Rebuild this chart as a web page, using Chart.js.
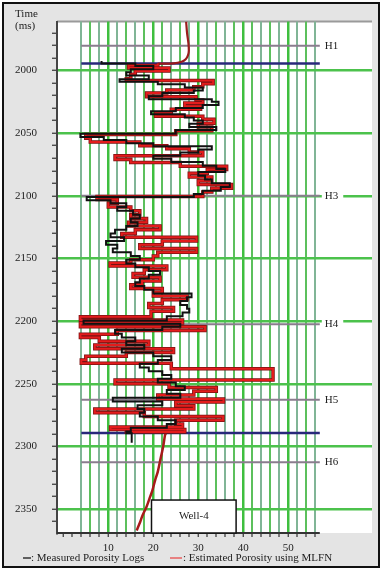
<!DOCTYPE html>
<html>
<head>
<meta charset="utf-8">
<script src="https://cdn.jsdelivr.net/npm/chart.js@4.4.1/dist/chart.umd.min.js"></script>
<style>
  html, body { margin: 0; padding: 0; background: #fff; }
  canvas { display: block; }
</style>
</head>
<body>
<canvas id="wellChart" width="382" height="570"></canvas>
<script>
// Measured porosity log (black), time in ms, porosity in %
const measuredTime = [1992.5, 1994.5, 1996.5, 1999, 2001.5, 2004, 2007, 2009, 2011, 2013.5, 2016, 2018, 2020.5, 2023, 2025, 2027.5, 2030, 2032.5, 2035, 2037.5, 2040, 2042.5, 2045, 2047.5, 2050.5, 2053, 2055.5, 2058, 2060.5, 2063, 2065.5, 2068, 2070.5, 2073, 2076, 2078.5, 2081, 2084, 2087, 2090, 2093, 2096, 2098.5, 2101, 2103.5, 2106, 2109, 2112, 2115, 2118, 2121, 2124, 2127, 2130, 2133, 2136, 2139, 2142, 2145, 2148, 2151, 2154, 2157, 2160, 2163, 2166, 2169, 2172, 2175, 2178, 2181, 2184, 2187, 2190, 2193, 2196, 2199.5, 2202, 2204.5, 2207, 2210, 2213, 2216, 2219, 2222, 2225, 2228, 2231, 2234, 2237, 2240, 2243, 2246, 2249, 2252, 2255, 2258, 2261, 2264, 2267, 2270, 2273, 2276, 2279, 2282, 2285, 2288, 2289.5, 2297];
const measuredPorosity = [8.5, 16, 20, 15, 14, 19, 12.5, 21, 27, 31, 29, 22, 19, 33, 34.5, 31, 25, 19.5, 27, 29, 31, 28, 34, 25, 3.8, 9, 14, 20, 33, 30, 26, 20, 24, 31, 34, 36, 30, 31.5, 33, 37, 35, 31, 29, 5.2, 10.5, 14, 12, 15.5, 17, 15, 16.5, 14, 11.5, 10.5, 13.5, 9.5, 12, 11, 15, 17, 14, 16, 19, 21.5, 19, 17, 16, 18, 20, 28.5, 27.5, 26, 27.5, 28, 26.5, 23, 4.5, 26, 22, 11.5, 13, 16, 14, 18, 13, 20, 24, 21, 17, 19, 22, 24, 21, 25, 27, 23, 26, 11, 22, 16.5, 18, 17, 21, 25, 23, 15, 14, 15.2, 15.2];

// Estimated porosity using MLFN (red)
const estimatedTime = [1994.5, 1996, 1998, 2000.5, 2003, 2006.5, 2008, 2010.5, 2013, 2015.5, 2018, 2021, 2023.5, 2026, 2028.5, 2031, 2034, 2036.5, 2039, 2042, 2045, 2048, 2051, 2054, 2057, 2060, 2062.5, 2065, 2068, 2071, 2073.5, 2076.5, 2079, 2082, 2085, 2088, 2091, 2094, 2097, 2100.5, 2103, 2106, 2109, 2112, 2115, 2118, 2121, 2124, 2127, 2130, 2133, 2136, 2139, 2142, 2145, 2148, 2151, 2153.5, 2156, 2159, 2162, 2165, 2168, 2171, 2174, 2177, 2180, 2183, 2186, 2189, 2192, 2196.5, 2199, 2201.5, 2204.5, 2207.5, 2210.5, 2213, 2216, 2219, 2222, 2225, 2228, 2231, 2233.5, 2238, 2247, 2250, 2253, 2256, 2259, 2262, 2264.5, 2267.5, 2270, 2273, 2276, 2279, 2282, 2284.5, 2286.5, 2288.5, 2290];
const estimatedPorosity = [21, 14.5, 23.5, 16, 15, 14, 33.3, 31, 29, 23, 18.5, 29.5, 31, 27, 30.5, 24, 20.5, 31, 33.5, 30, 33, 25, 5, 6, 17, 23, 28, 31, 11.5, 15, 26, 36.3, 32, 28, 33, 30, 37.4, 33, 31, 7.5, 12, 10, 15, 17, 15, 18.5, 14.5, 21.5, 16, 13, 29.6, 22, 17, 29.6, 21, 20, 15, 10.4, 23, 18, 15.5, 21.5, 17.5, 15, 22, 20, 27.5, 22, 19, 24.5, 19.5, 3.8, 26.5, 3.8, 31.5, 12, 3.8, 8, 19, 7, 24.5, 14, 5, 4, 24, 46.6, 11.5, 23.5, 34, 29, 21, 35.6, 25, 29, 7, 18, 35.5, 25, 26.5, 10.5, 27, 14, 14];

// Smooth log above and below the zone
const upperTime = [1961, 1970, 1978, 1984, 1988, 1991, 1993, 1994.3, 1994.5];
const upperPorosity = [27.3, 27.5, 27.8, 27.9, 27.7, 27.2, 26.3, 24.5, 21];
const lowerTime = [2289.5, 2291, 2300, 2310, 2320, 2327, 2335, 2340, 2348, 2355, 2360, 2367];
const lowerPorosity = [22.8, 22.6, 22.2, 21.6, 21, 20.4, 19.8, 19.3, 18.5, 17.6, 17.1, 16.3];

// Horizons and zone boundaries
const horizonNames = ['H1', 'H3', 'H4', 'H5', 'H6'];
const horizonTimes = [1980.3, 2100, 2202.5, 2262.7, 2312.6];
const zoneTimes = [1994.5, 2289.3];
const lineSpan = [4, 57];

// Axes
const xTickValues = [];
for (let v = 0; v <= 56; v += 2) xTickValues.push(v);
const xLabelValues = [10, 20, 30, 40, 50];
const yTickValues = [];
for (let v = 1970; v <= 2360; v += 10) yTickValues.push(v);
const yLabelValues = [2000, 2050, 2100, 2150, 2200, 2250, 2300, 2350];

const serif = '"Liberation Serif", "DejaVu Serif", serif';

const toPoints = (times, vals) => times.map((t, i) => ({ x: vals[i], y: t }));

const horizonSets = horizonTimes.map(t => ({
	label: 'horizon',
	data: lineSpan.map(x => ({ x: x, y: t })),
	borderColor: '#8a7d8e',
	borderWidth: 2,
	pointRadius: 0
}));
const zoneSets = zoneTimes.map(t => ({
	label: 'zone',
	data: lineSpan.map(x => ({ x: x, y: t })),
	borderColor: '#28287a',
	borderWidth: 2.5,
	pointRadius: 0
}));

const framePlugin = {
	id: 'frame',
	beforeDraw(chart) {
		const ctx = chart.ctx;
		const a = chart.chartArea;
		ctx.save();
		ctx.fillStyle = '#fff';
		ctx.fillRect(0, 0, chart.width, chart.height);
		ctx.fillStyle = '#e4e4e4';
		ctx.fillRect(3, 3, 376, 564);
		ctx.strokeStyle = '#111';
		ctx.lineWidth = 2;
		ctx.strokeRect(3, 3, 376, 564);
		ctx.fillStyle = '#fff';
		ctx.fillRect(a.left, a.top, a.right - a.left, a.bottom - a.top);
		ctx.strokeStyle = '#9a9a9a';
		ctx.lineWidth = 2;
		ctx.beginPath();
		ctx.moveTo(a.left, a.top);
		ctx.lineTo(a.right, a.top);
		ctx.stroke();
		ctx.restore();
	},
	afterDraw(chart) {
		const ctx = chart.ctx;
		const a = chart.chartArea;
		const xs = chart.scales.x;
		const ys = chart.scales.y;
		ctx.save();

		// bottom axis line
		ctx.strokeStyle = '#333';
		ctx.lineWidth = 2;
		ctx.beginPath();
		ctx.moveTo(a.left, a.bottom);
		ctx.lineTo(xs.getPixelForValue(lineSpan[1]), a.bottom);
		ctx.stroke();

		ctx.font = '11px ' + serif;
		ctx.fillStyle = '#222';
		ctx.textBaseline = 'middle';

		// horizon labels
		const lx = xs.getPixelForValue(lineSpan[1]) + 2;
		horizonNames.forEach((name, i) => {
			const y = ys.getPixelForValue(horizonTimes[i]);
			const w = ctx.measureText(name).width;
			ctx.fillStyle = '#fff';
			ctx.fillRect(lx, y - 5, w + 8, 10);
			ctx.fillStyle = '#222';
			ctx.fillText(name, lx + 3, y);
		});

		// axis title
		ctx.fillText('Time', 15, 14);
		ctx.fillText('(ms)', 15, 26);

		// well label box
		const bx0 = xs.getPixelForValue(19.6);
		const bx1 = xs.getPixelForValue(38.4);
		const by0 = ys.getPixelForValue(2342.7);
		ctx.fillStyle = '#fff';
		ctx.fillRect(bx0, by0, bx1 - bx0, a.bottom - by0);
		ctx.strokeStyle = '#111';
		ctx.lineWidth = 1.5;
		ctx.strokeRect(bx0, by0, bx1 - bx0, a.bottom - by0);
		ctx.fillStyle = '#222';
		ctx.textAlign = 'center';
		ctx.fillText('Well-4', (bx0 + bx1) / 2, (by0 + a.bottom) / 2);

		// legend
		const ds = chart.data.datasets;
		ctx.textAlign = 'left';
		ctx.lineWidth = 1.5;
		ctx.strokeStyle = '#333';
		ctx.beginPath();
		ctx.moveTo(23, 558);
		ctx.lineTo(31, 558);
		ctx.stroke();
		ctx.fillText(': ' + ds[0].label, 31, 558);
		ctx.strokeStyle = '#e86060';
		ctx.beginPath();
		ctx.moveTo(170, 558);
		ctx.lineTo(182, 558);
		ctx.stroke();
		ctx.fillText(': ' + ds[1].label, 183, 558);
		ctx.restore();
	}
};

new Chart(document.getElementById('wellChart'), {
	type: 'line',
	data: {
		datasets: [
			{
				label: 'Measured Porosity Logs',
				data: toPoints(measuredTime, measuredPorosity),
				borderColor: '#111',
				borderWidth: 2,
				stepped: 'after',
				pointRadius: 0
			},
			{
				label: 'Estimated Porosity using MLFN',
				data: toPoints(estimatedTime, estimatedPorosity),
				borderColor: '#e41c1c',
				borderWidth: 2,
				stepped: 'after',
				pointRadius: 0
			},
			{
				// dark edge under the red log
				label: 'estimated edge',
				data: toPoints(estimatedTime, estimatedPorosity),
				borderColor: '#7a1212',
				borderWidth: 3.5,
				stepped: 'after',
				pointRadius: 0
			},
			{
				label: 'upper',
				data: toPoints(upperTime, upperPorosity),
				borderColor: '#9a1c1c',
				borderWidth: 2.2,
				tension: 0.3,
				pointRadius: 0
			},
			{
				label: 'lower',
				data: toPoints(lowerTime, lowerPorosity),
				borderColor: '#a81a1a',
				borderWidth: 2.5,
				tension: 0.3,
				pointRadius: 0
			},
			...zoneSets,
			...horizonSets
		]
	},
	options: {
		responsive: false,
		animation: false,
		devicePixelRatio: 1,
		layout: { padding: { left: 0, top: 20, right: 10, bottom: 0 } },
		plugins: {
			legend: { display: false },
			tooltip: { enabled: false }
		},
		scales: {
			x: {
				type: 'linear',
				position: 'bottom',
				min: -1.4,
				max: 68.6,
				afterBuildTicks: (scale) => { scale.ticks = xTickValues.map(v => ({ value: v })); },
				afterFit: (scale) => { scale.height = 37; },
				border: { display: false },
				grid: {
					color: (c) => {
						const v = c.tick.value;
						if (v < 4) return 'rgba(0,0,0,0)';
						if (v % 10 === 0) return '#3fbf3f';
						return (v / 2) % 2 ? '#5cc05c' : '#80b596';
					},
					lineWidth: (c) => (c.tick.value % 10 === 0 ? 2.5 : 2),
					tickColor: '#333',
					tickLength: 4,
					tickWidth: 1.2
				},
				ticks: {
					autoSkip: false,
					maxRotation: 0,
					padding: 5,
					color: '#222',
					font: { family: serif, size: 11 },
					callback: (v) => (xLabelValues.includes(v) ? String(v) : '')
				}
			},
			y: {
				type: 'linear',
				reverse: true,
				min: 1961,
				max: 2369,
				afterBuildTicks: (scale) => { scale.ticks = yTickValues.map(v => ({ value: v })); },
				afterFit: (scale) => { scale.width = 57; },
				border: { color: '#444', width: 2 },
				grid: {
					color: (c) => (c.tick.value % 50 === 0 ? '#4cc24c' : 'rgba(0,0,0,0)'),
					lineWidth: 2.5,
					tickColor: '#333',
					tickLength: 5,
					tickWidth: 1.2
				},
				ticks: {
					autoSkip: false,
					padding: 15,
					color: '#222',
					font: { family: serif, size: 11 },
					callback: (v) => (yLabelValues.includes(v) ? String(v) : '')
				}
			}
		}
	},
	plugins: [framePlugin]
});
</script>
</body>
</html>
